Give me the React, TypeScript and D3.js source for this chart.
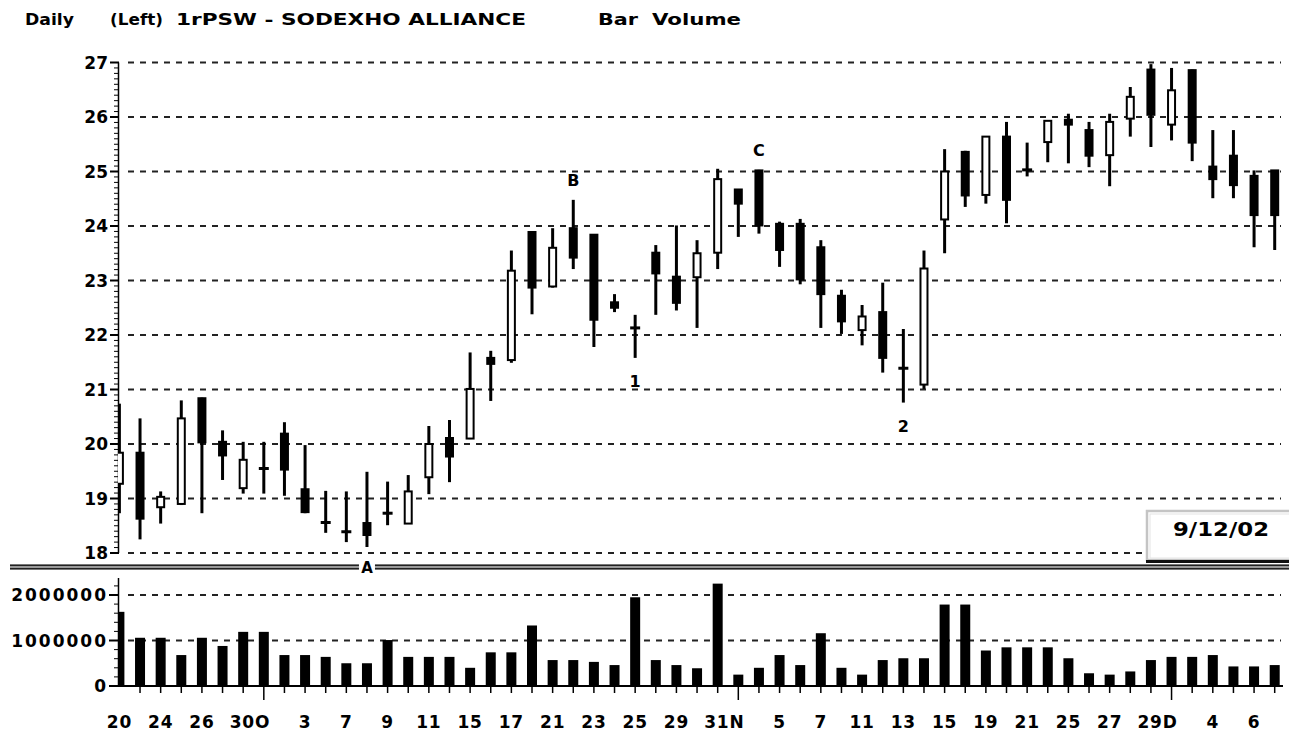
import React, { useEffect, useRef } from 'react';
import * as d3 from 'd3';

const FONT = '"DejaVu Sans", Verdana, sans-serif';

// daily bars, 20 Sep 2002 .. 9 Dec 2002
const opens = [
  19.27, 19.84, 18.84, 18.9, 20.84, 20.04, 19.19, 19.55, 20.19, 19.17,
  18.56, 18.39, 18.55, 18.73, 18.54, 19.39, 20.11, 20.1, 21.58, 21.54,
  23.89, 22.89, 23.96, 23.84, 22.6, 22.13, 23.51, 23.07, 23.06, 23.51,
  24.67, 25.02, 24.04, 24.04, 23.61, 22.72, 22.09, 22.42, 21.39, 21.09,
  24.12, 25.36, 24.57, 25.64, 25.0, 25.54, 25.95, 25.76, 25.3, 25.97,
  26.87, 25.86, 26.86, 25.09, 25.29, 24.92, 25.02
];
const highs = [
  20.74, 20.47, 19.13, 20.8, 20.85, 20.25, 20.04, 20.04, 20.4, 19.98,
  19.14, 19.13, 19.49, 19.31, 19.43, 20.33, 20.44, 21.68, 21.71, 23.55,
  23.89, 23.96, 24.48, 23.84, 22.75, 22.37, 23.65, 24.01, 23.74, 25.05,
  24.67, 25.03, 24.08, 24.13, 23.74, 22.83, 22.55, 22.96, 22.11, 23.55,
  25.41, 25.38, 25.64, 25.91, 25.53, 25.93, 26.06, 25.91, 26.06, 26.55,
  26.97, 26.9, 26.87, 25.76, 25.76, 25.02, 25.02
];
const lows = [
  18.73, 18.25, 18.54, 18.88, 18.73, 19.34, 19.09, 19.09, 19.05, 18.73,
  18.37, 18.2, 18.11, 18.51, 18.54, 19.08, 19.3, 20.09, 20.79, 21.49,
  22.38, 22.87, 23.21, 21.78, 22.42, 21.58, 22.37, 22.45, 22.13, 23.21,
  23.8, 23.86, 23.25, 22.93, 22.13, 22.02, 21.81, 21.31, 20.76, 21.01,
  23.5, 24.35, 24.41, 24.05, 24.91, 25.17, 25.15, 25.08, 24.73, 25.64,
  25.45, 25.57, 25.19, 24.51, 24.51, 23.61, 23.56
];
const closes = [
  19.84, 18.63, 19.03, 20.47, 20.03, 19.79, 19.71, 19.55, 19.53, 18.75,
  18.56, 18.39, 18.33, 18.73, 19.13, 20.0, 19.77, 21.01, 21.47, 23.18,
  22.87, 23.6, 23.42, 22.28, 22.5, 22.13, 23.13, 22.59, 23.5, 24.86,
  24.41, 24.01, 23.56, 23.02, 22.75, 22.25, 22.34, 21.58, 21.39, 23.22,
  25.0, 24.56, 25.64, 24.48, 25.03, 25.93, 25.86, 25.29, 25.91, 26.37,
  26.04, 26.49, 25.53, 24.86, 24.75, 24.2, 24.2
];
const volumes = [
  1630000, 1060000, 1060000, 680000, 1060000, 880000, 1190000, 1190000, 680000, 680000,
  640000, 500000, 500000, 1010000, 640000, 640000, 640000, 400000, 740000, 740000,
  1330000, 570000, 570000, 530000, 460000, 1950000, 570000, 460000, 390000, 2250000,
  250000, 400000, 680000, 460000, 1160000, 400000, 250000, 570000, 610000, 610000,
  1790000, 1790000, 780000, 850000, 850000, 850000, 610000, 280000, 250000, 320000,
  570000, 640000, 640000, 680000, 430000, 430000, 460000
];
const xLabels = [
  '20', '', '24', '', '26', '', '30O', '', '', '3',
  '', '7', '', '9', '', '11', '', '15', '', '17',
  '', '21', '', '23', '', '25', '', '29', '', '31N',
  '', '', '5', '', '7', '', '11', '', '13', '',
  '15', '', '19', '', '21', '', '25', '', '27', '',
  '29D', '', '', '4', '', '6', ''
];
const monthStarts = [7, 30, 51];
const priceTicks = [18, 19, 20, 21, 22, 23, 24, 25, 26, 27];
const volumeTicks = [0, 1000000, 2000000];
const marksAbove = [{ i: 22, text: 'B' }, { i: 31, text: 'C' }];
const marksBelow = [{ i: 25, text: '1' }, { i: 38, text: '2' }];
const markOnLine = { i: 12, text: 'A' };

const App = () => {
  const ref = useRef<SVGSVGElement>(null);

  useEffect(() => {
    const svg = d3.select(ref.current);
    svg.selectAll('*').remove();

    const n = closes.length;
    const x = d3.scaleLinear().domain([0, n - 1]).range([119.4, 1274.7]);
    const y = d3.scaleLinear().domain([18, 27]).range([553, 62.5]);
    const yv = d3.scaleLinear().domain([0, 2000000]).range([686, 595]);
    const idx = d3.range(n);

    svg.append('rect').attr('width', 1289).attr('height', 733).attr('fill', 'white');

    svg.append('defs').append('clipPath').attr('id', 'plot')
      .append('rect').attr('x', 118).attr('y', 0).attr('width', 1171).attr('height', 733);

    // header
    const head = [
      { t: 'Daily', x: 25, w: 49 },
      { t: '(Left)', x: 110, w: 53 },
      { t: '1rPSW - SODEXHO ALLIANCE', x: 176, w: 350 },
      { t: 'Bar', x: 598, w: 40 },
      { t: 'Volume', x: 652, w: 89 }
    ];
    svg.append('g').selectAll('text').data(head).enter().append('text')
      .attr('x', d => d.x).attr('y', 25)
      .attr('textLength', d => d.w).attr('lengthAdjust', 'spacingAndGlyphs')
      .style('font', `bold 15px ${FONT}`).text(d => d.t);

    // price grid
    svg.append('g').selectAll('line').data(priceTicks).enter().append('line')
      .attr('x1', 128).attr('x2', 1281)
      .attr('y1', d => y(d)).attr('y2', d => y(d))
      .attr('stroke', '#222').attr('stroke-width', 2).attr('stroke-dasharray', '6,6');

    // price axis
    const pa = svg.append('g');
    pa.append('line').attr('x1', 118.5).attr('x2', 118.5).attr('y1', y(27)).attr('y2', y(18))
      .attr('stroke', '#000').attr('stroke-width', 1.5);
    const minor = d3.range(180, 271).map(v => v / 10);
    pa.selectAll('line.m').data(minor).enter().append('line')
      .attr('x1', d => (Math.round(d * 10) % 10 === 0 ? 110 : 114)).attr('x2', 119)
      .attr('y1', d => y(d)).attr('y2', d => y(d))
      .attr('stroke', '#000').attr('stroke-width', d => (Math.round(d * 10) % 10 === 0 ? 2 : 1));
    pa.selectAll('text').data(priceTicks).enter().append('text')
      .attr('x', 108).attr('y', d => y(d) + 6.3).attr('text-anchor', 'end')
      .style('font', `bold 17px ${FONT}`).text(d => d);

    // candles
    const cg = svg.append('g').attr('clip-path', 'url(#plot)');
    cg.selectAll('line.w').data(idx).enter().append('line')
      .attr('x1', i => x(i)).attr('x2', i => x(i))
      .attr('y1', i => y(highs[i])).attr('y2', i => y(lows[i]))
      .attr('stroke', '#000').attr('stroke-width', 3);
    const doji = idx.filter(i => Math.abs(closes[i] - opens[i]) < 0.04);
    const bodies = idx.filter(i => Math.abs(closes[i] - opens[i]) >= 0.04);
    cg.selectAll('line.d').data(doji).enter().append('line')
      .attr('x1', i => x(i) - 5).attr('x2', i => x(i) + 5)
      .attr('y1', i => y(closes[i])).attr('y2', i => y(closes[i]))
      .attr('stroke', '#000').attr('stroke-width', 3);
    cg.selectAll('rect.b').data(bodies).enter().append('rect')
      .attr('x', i => x(i) - 3.5).attr('width', 7)
      .attr('y', i => y(Math.max(opens[i], closes[i])))
      .attr('height', i => Math.abs(y(opens[i]) - y(closes[i])))
      .attr('fill', i => (closes[i] > opens[i] ? '#fff' : '#000'))
      .attr('stroke', '#000').attr('stroke-width', 2);

    // annotations
    const ann = svg.append('g').style('font', `bold 16px ${FONT}`).attr('text-anchor', 'middle');
    ann.selectAll('text.a').data(marksAbove).enter().append('text')
      .attr('x', d => x(d.i)).attr('y', d => y(highs[d.i]) - 14).text(d => d.text);
    ann.selectAll('text.b').data(marksBelow).enter().append('text')
      .attr('x', d => x(d.i)).attr('y', d => y(lows[d.i]) + 29).text(d => d.text);

    // date box
    const box = svg.append('g');
    box.append('rect').attr('x', 1147).attr('y', 511).attr('width', 150).attr('height', 49)
      .attr('fill', '#fff').attr('stroke', '#c4c4c4').attr('stroke-width', 2.5);
    box.append('rect').attr('x', 1150).attr('y', 514).attr('width', 150).attr('height', 44)
      .attr('fill', 'none').attr('stroke', '#e4e4e4').attr('stroke-width', 1);
    box.append('line').attr('x1', 1146).attr('x2', 1289).attr('y1', 561.5).attr('y2', 561.5)
      .attr('stroke', '#111').attr('stroke-width', 3);
    box.append('text').attr('x', 1173).attr('y', 536)
      .attr('textLength', 96).attr('lengthAdjust', 'spacingAndGlyphs')
      .style('font', `bold 19px ${FONT}`).text('9/12/02');

    // separator between panes
    const sep = svg.append('g');
    sep.append('rect').attr('x', 10).attr('y', 564.5).attr('width', 1279).attr('height', 5).attr('fill', '#9a9a9a');
    [565.2, 568.8].forEach(v => {
      sep.append('line').attr('x1', 10).attr('x2', 1289).attr('y1', v).attr('y2', v)
        .attr('stroke', '#222').attr('stroke-width', 1.5);
    });
    sep.append('rect').attr('x', x(markOnLine.i) - 8).attr('y', 560).attr('width', 16).attr('height', 14).attr('fill', '#fff');
    sep.append('text').attr('x', x(markOnLine.i)).attr('y', 573).attr('text-anchor', 'middle')
      .style('font', `bold 15px ${FONT}`).text(markOnLine.text);

    // volume grid
    svg.append('g').selectAll('line').data(volumeTicks.filter(v => v > 0)).enter().append('line')
      .attr('x1', 128).attr('x2', 1281)
      .attr('y1', d => yv(d)).attr('y2', d => yv(d))
      .attr('stroke', '#222').attr('stroke-width', 2).attr('stroke-dasharray', '6,6');

    // volume bars
    svg.append('g').attr('clip-path', 'url(#plot)').selectAll('rect').data(idx).enter().append('rect')
      .attr('x', i => x(i) - 5).attr('width', 10)
      .attr('y', i => yv(volumes[i])).attr('height', i => yv(0) - yv(volumes[i]))
      .attr('fill', '#000');

    // volume axis
    const va = svg.append('g');
    va.append('line').attr('x1', 118.5).attr('x2', 118.5).attr('y1', 578).attr('y2', 686)
      .attr('stroke', '#000').attr('stroke-width', 1.5);
    const vminor = d3.range(0, 12).map(k => k * 200000);
    va.selectAll('line.m').data(vminor).enter().append('line')
      .attr('x1', d => (d % 1000000 === 0 ? 109 : 114)).attr('x2', 119)
      .attr('y1', d => yv(d)).attr('y2', d => yv(d))
      .attr('stroke', '#000').attr('stroke-width', d => (d % 1000000 === 0 ? 2 : 1));
    va.selectAll('text').data(volumeTicks).enter().append('text')
      .attr('x', 108).attr('y', d => yv(d) + 6.3).attr('text-anchor', 'end')
      .attr('letter-spacing', 2)
      .style('font', `bold 17px ${FONT}`).text(d => d);

    // time axis
    const ta = svg.append('g');
    ta.append('line').attr('x1', 118).attr('x2', 1283).attr('y1', 686).attr('y2', 686)
      .attr('stroke', '#000').attr('stroke-width', 2);
    ta.selectAll('line.t').data(idx.filter(i => i > 0)).enter().append('line')
      .attr('x1', i => x(i)).attr('x2', i => x(i))
      .attr('y1', 686).attr('y2', i => (monthStarts.includes(i) ? 700 : 693))
      .attr('stroke', '#000').attr('stroke-width', 1.5);
    ta.selectAll('text').data(idx.filter(i => xLabels[i] !== '')).enter().append('text')
      .attr('x', i => (/[A-Z]$/.test(xLabels[i]) ? x(i) - 13.5 : x(i)))
      .attr('y', 728)
      .attr('text-anchor', i => (/[A-Z]$/.test(xLabels[i]) ? 'start' : 'middle'))
      .attr('letter-spacing', 0.8)
      .style('font', `bold 17px ${FONT}`).text(i => xLabels[i]);
  }, []);

  return (
    <div style={{ position: 'absolute', left: 0, top: 0, fontSize: 0 }}>
      <svg ref={ref} width={1289} height={733} />
    </div>
  );
};

export default App;
